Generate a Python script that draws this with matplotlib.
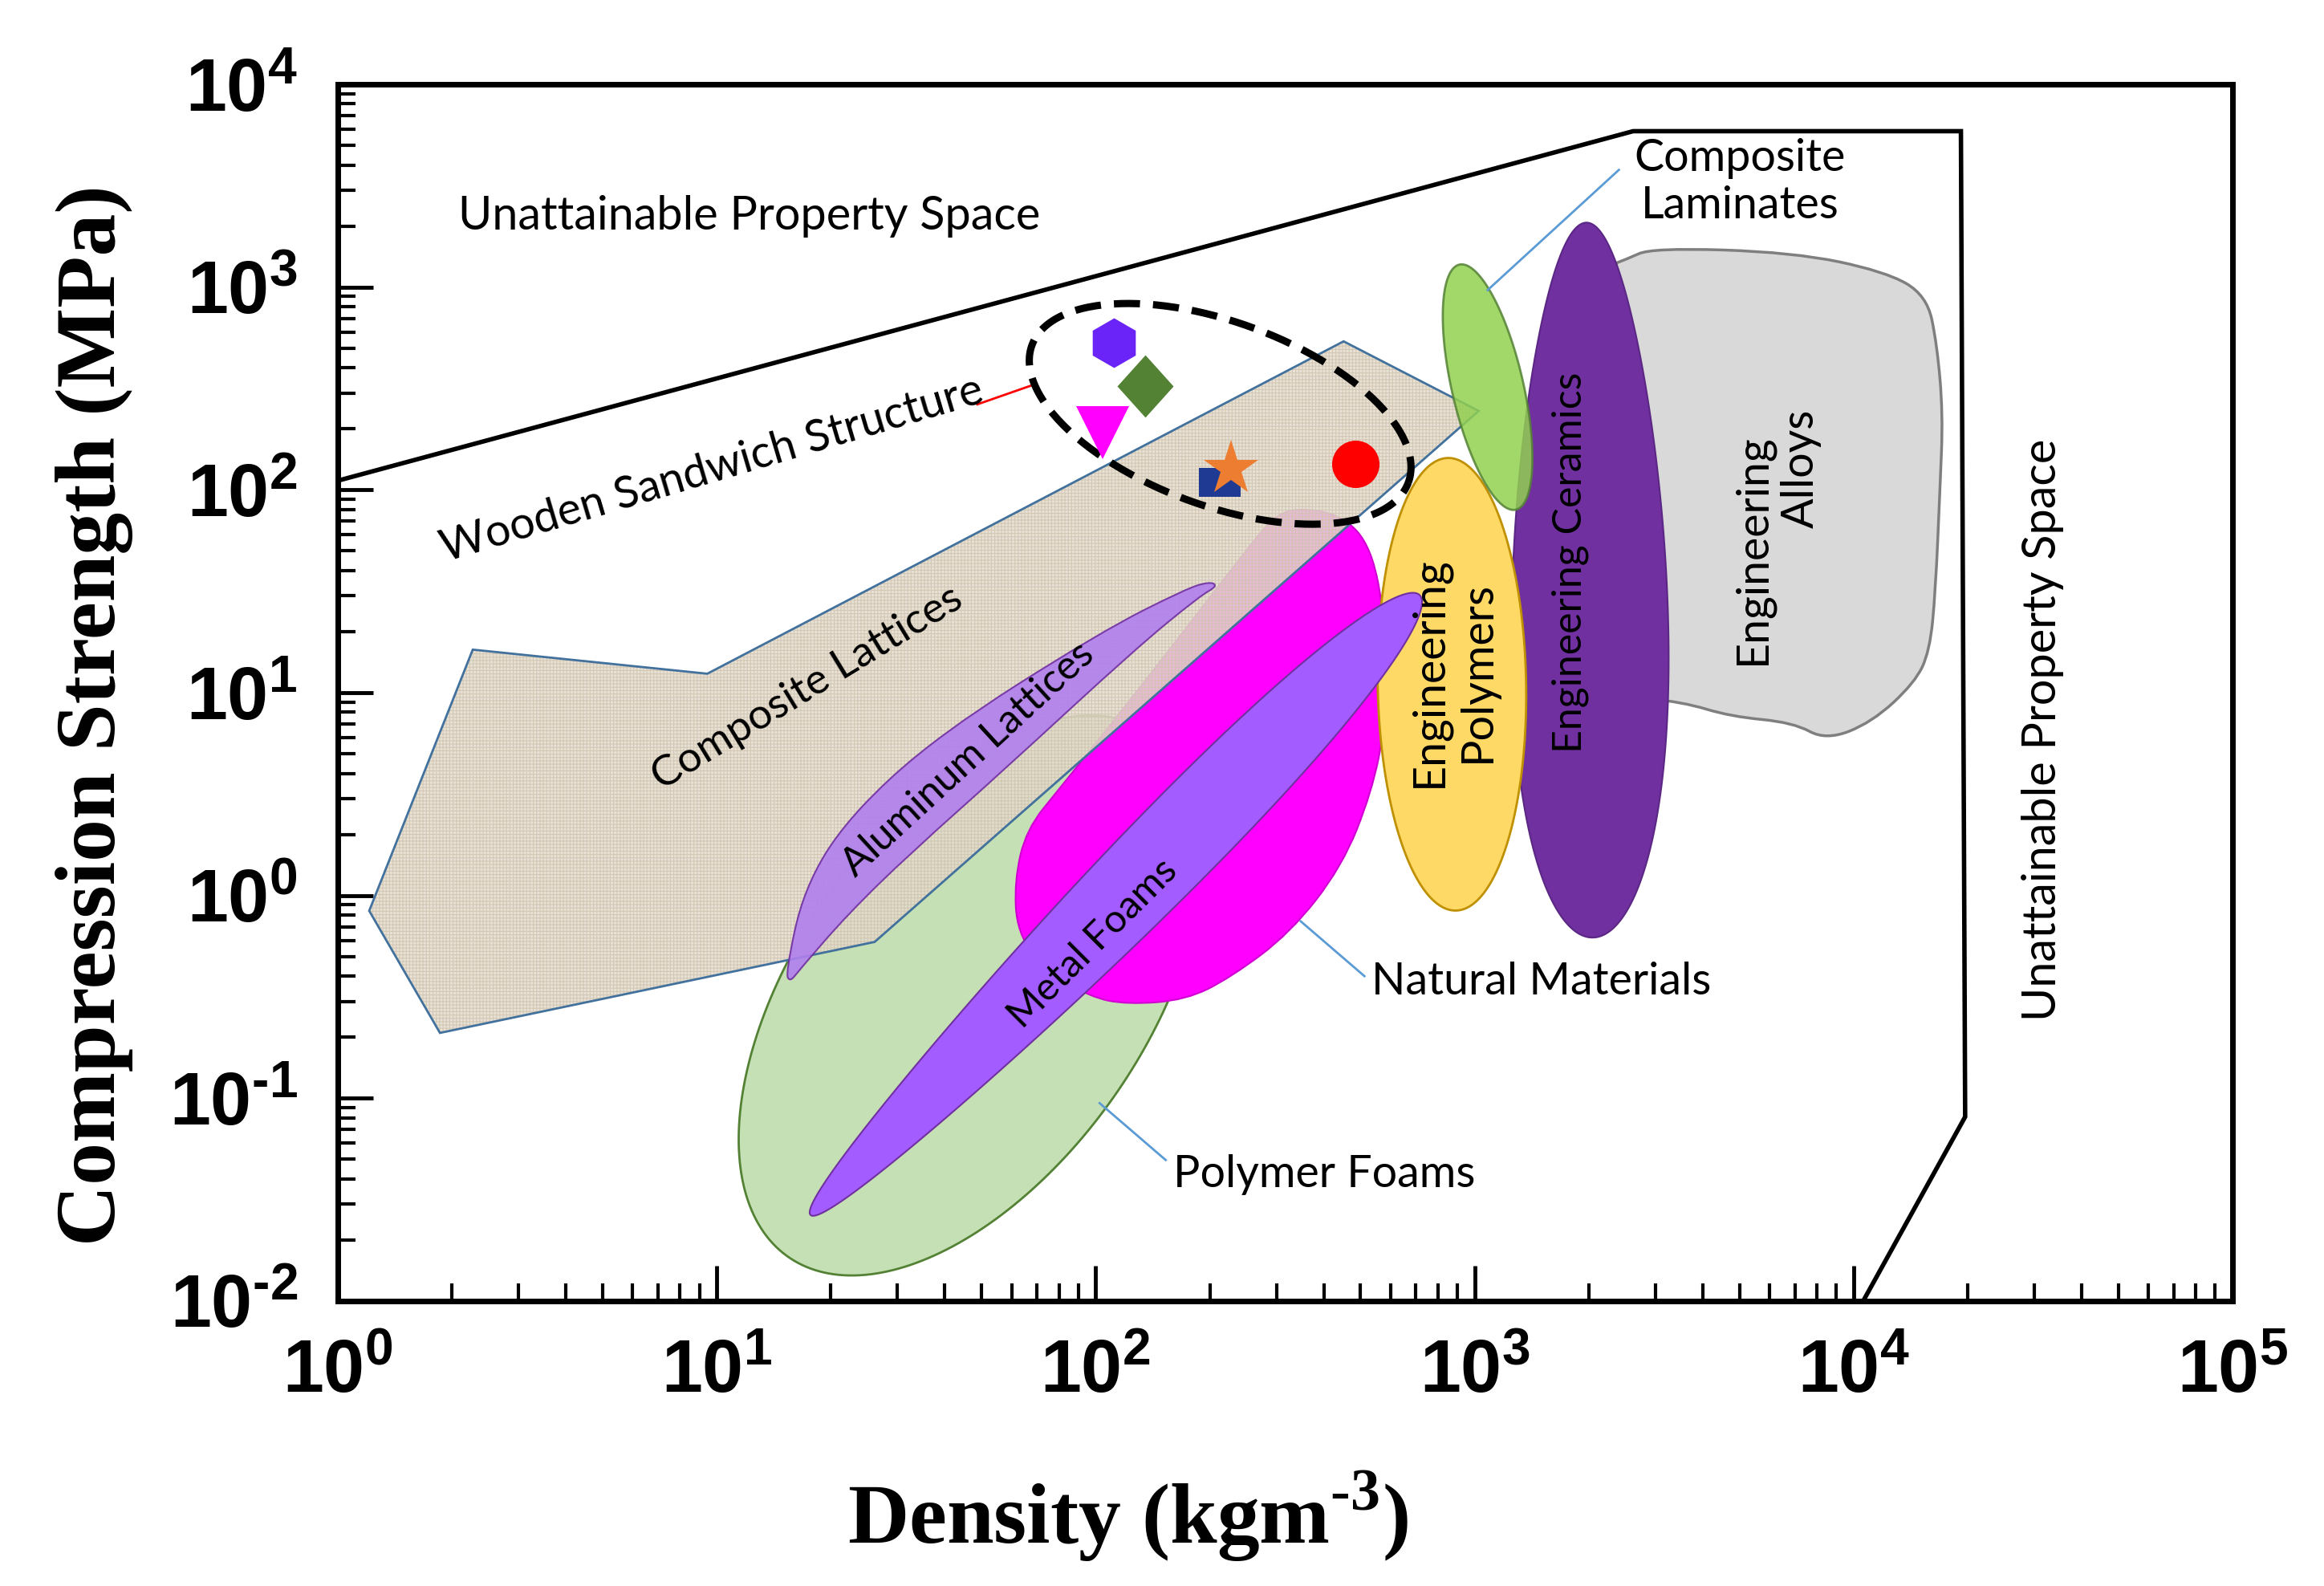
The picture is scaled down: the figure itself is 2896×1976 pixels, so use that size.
import numpy as np
import matplotlib.pyplot as plt
from matplotlib.patches import Polygon, PathPatch
from matplotlib.path import Path
from matplotlib.ticker import FuncFormatter

# ---- values: density (kg/m3), compression strength (MPa) ----

# limit of attainable property space
bound_density = [1, 2620, 19200, 19700, 10600]
bound_strength = [111, 5870, 5870, 0.081, 0.01]

# composite lattices envelope
lattice_density = [1.21, 2.27, 9.44, 451, 1025, 26.1, 1.86]
lattice_strength = [0.84, 16.3, 12.4, 540, 245, 0.59, 0.21]

# engineering alloys envelope
alloys_density = [2500, 2943, 6934, 12110, 15600, 16600, 17220, 16900, 16450,
                  15880, 14510, 11170, 8450, 6934, 4745, 3524, 2371, 2265]
alloys_strength = [1365, 1563, 1485, 1194, 912, 523, 237, 100, 31.4,
                   16.0, 11.2, 7.13, 5.82, 7.13, 7.62, 9.02, 9.66, 1276]

# natural materials envelope
natural_density = [338, 447, 535, 581, 581, 535, 447, 326, 227, 173,
                   121, 96.6, 73.7, 62.1, 61.0, 65.6, 80.7, 145, 249, 293]
natural_strength = [82.0, 75.4, 52.0, 22.4, 6.89, 3.23, 1.39, 0.652, 0.394, 0.305,
                    0.290, 0.316, 0.428, 0.652, 1.175, 2.12, 3.40, 13.5, 50.2, 72.8]

# aluminium lattices envelope
alu_density = [15.2, 16.96, 22.2, 38.5, 102.9, 173, 200, 210, 188, 126.6,
               57.3, 32.5, 22.2, 16.5, 15.6]
alu_strength = [0.414, 1.08, 2.43, 6.22, 19.9, 32.5, 35.3, 33.6, 29.9, 16.3,
                4.16, 1.62, 0.811, 0.428, 0.374]

# elliptical envelopes: centre density, centre strength, half length and half
# width (decades), tilt (deg), taper
laminates_env = (1082, 321, 0.62, 0.176, 103, 0.0)
eng_polymers_env = (871, 11.0, 1.116, 0.366, 91, 0.0)
metal_foams_env = (112.5, 0.897, 2.143, 0.212, 45.5, 0.25)
polymer_foams_env = (46.9, 0.321, 1.573, 0.863, 55, 0.0)
ceramics_env = (2010, 35.9, 1.763, 0.38, 90.5, -0.2)
sandwich_env = (213, 237, 0.988, 0.454, -20, 0.0)

# wooden sandwich structures
sandwich_density = [111.6, 134.9, 104.3, 213, 227.5, 485]
sandwich_strength = [532, 326, 192, 109, 127, 134.5]

# leader lines
lead_natural_x, lead_natural_y = [347.5, 512], [0.746, 0.400]
lead_polyfoam_x, lead_polyfoam_y = [102.4, 153], [0.0946, 0.0496]
lead_laminate_x, lead_laminate_y = [1082, 2403], [966, 3784]
lead_sandwich_x, lead_sandwich_y = [48.7, 67.3], [264, 326]

# ---- figure ----
plt.rcParams['font.family'] = ['Liberation Sans Narrow', 'Liberation Sans']
plt.rcParams['font.weight'] = 'bold'
plt.rcParams['hatch.linewidth'] = 0.8

fig_w, fig_h = 28.96, 19.76
ax_box = [0.14537, 0.17966, 0.81526, 0.76721]
fig = plt.figure(figsize=(fig_w, fig_h), dpi=100)
ax = fig.add_axes(ax_box)
ax.set_xscale('log')
ax.set_yscale('log')
ax.set_xlim(1, 1e5)
ax.set_ylim(1e-2, 1e4)

# ratio of pixels per decade on x vs y, so ellipses look right on screen
K = (fig_w * ax_box[2] / 5) / (fig_h * ax_box[3] / 6)


def envelope(env, n=240):
    cx, cy, a, b, ang, taper = env
    t = np.linspace(0, 2 * np.pi, n)
    th = np.radians(ang)
    w = b * np.sin(t) * (1 + taper * np.cos(t))
    X = np.log10(cx) * K + a * np.cos(t) * np.cos(th) - w * np.sin(th)
    Y = np.log10(cy) + a * np.cos(t) * np.sin(th) + w * np.cos(th)
    return np.column_stack([10 ** (X / K), 10 ** Y])


def smooth_outline(xs, ys):
    # closed quadratic bezier, the read-off corners act as control points
    xs = np.asarray(xs, float)
    ys = np.asarray(ys, float)
    mx = np.sqrt(xs * np.roll(xs, -1))
    my = np.sqrt(ys * np.roll(ys, -1))
    verts = [(mx[-1], my[-1])]
    codes = [Path.MOVETO]
    for i in range(len(xs)):
        verts += [(xs[i], ys[i]), (mx[i], my[i])]
        codes += [Path.CURVE3, Path.CURVE3]
    verts.append((mx[-1], my[-1]))
    codes.append(Path.CLOSEPOLY)
    return Path(verts, codes)


def add_shape(pts, face, edge, lw, z, alpha=1.0):
    ax.add_patch(Polygon(pts, closed=True, facecolor=face, edgecolor=edge,
                         linewidth=lw, zorder=z, alpha=alpha, joinstyle='round'))


def add_blob(xs, ys, face, edge, lw, z, alpha=1.0):
    ax.add_patch(PathPatch(smooth_outline(xs, ys), facecolor=face, edgecolor=edge,
                           linewidth=lw, zorder=z, alpha=alpha))


add_blob(alloys_density, alloys_strength, '#D9D9D9', '#7F7F7F', 2.5, 2)
add_shape(envelope(ceramics_env), '#7030A0', '#5B2784', 1.5, 3)
add_shape(envelope(polymer_foams_env), '#C5E0B4', '#548235', 2.0, 4)
add_blob(natural_density, natural_strength, '#FF00FF', '#D000D0', 1.5, 5)

# composite lattices: textured fill + blue outline
lat = np.column_stack([lattice_density, lattice_strength])
ax.add_patch(Polygon(lat, closed=True, facecolor='#E4DCCE', edgecolor='#D0C4AF',
                     hatch='++++', linewidth=0, zorder=6, alpha=0.85))
ax.add_patch(Polygon(lat, closed=True, fill=False, edgecolor='#41719C',
                     linewidth=2.0, zorder=6.1))

add_blob(alu_density, alu_strength, '#B07FEE', '#7030A0', 1.5, 7, alpha=0.9)
add_shape(envelope(eng_polymers_env), '#FFD966', '#BF9000', 2.0, 8)
add_shape(envelope(metal_foams_env), '#A35CFF', '#7030A0', 1.5, 9)
add_shape(envelope(laminates_env), '#92D050', '#548235', 2.0, 10, alpha=0.85)

# property space limit
ax.plot(bound_density, bound_strength, color='black', lw=4, zorder=11,
        solid_joinstyle='miter')

# leader lines
for lx, ly in [(lead_natural_x, lead_natural_y), (lead_polyfoam_x, lead_polyfoam_y),
               (lead_laminate_x, lead_laminate_y)]:
    ax.plot(lx, ly, color='#5B9BD5', lw=2, zorder=11)
ax.plot(lead_sandwich_x, lead_sandwich_y, color='red', lw=2, zorder=11)

# dashed envelope round the sandwich structures
env = envelope(sandwich_env)
ax.plot(env[:, 0], env[:, 1], color='black', lw=6.5, dashes=(3.6, 1.8), zorder=12)

# sandwich structure points
marker_styles = [
    ('h', 44.6, '#6B24F7'),
    ([(0, 1), (0.9, 0), (0, -1), (-0.9, 0)], 56, '#548235'),
    ('v', 47.5, '#FF00FF'),
    ([(-1, -0.71), (1, -0.71), (1, 0.71), (-1, 0.71)], 37.4, '#1F3A93'),
    ('*', 51.5, '#ED7D31'),
    ('o', 42.5, '#FF0000'),
]
for xd, yd, (m, ms, c) in zip(sandwich_density, sandwich_strength, marker_styles):
    ax.plot(xd, yd, marker=m, ms=ms, color=c, mew=0, ls='none', zorder=13)

# labels
lab = dict(family='Lato', weight='normal', fontsize=40, ha='center', va='center', zorder=14)
ax.text(12.2, 2223, 'Unattainable Property Space', **dict(lab, fontsize=41.5))
ax.text(31500, 6.55, 'Unattainable Property Space', rotation=90, **dict(lab, fontsize=41.5))
ax.text(9.7, 125, 'Wooden Sandwich Structure', rotation=16.5, **lab)
ax.text(17.3, 10.5, 'Composite Lattices', rotation=31.4, **dict(lab, fontsize=38))
ax.text(46.1, 4.68, 'Aluminum Lattices', rotation=42.5, **dict(lab, fontsize=36))
ax.text(98.4, 0.579, 'Metal Foams', rotation=45, **dict(lab, fontsize=35))
ax.text(879, 12.65, 'Engineering\nPolymers', rotation=90, **lab)
ax.text(1792, 44.0, 'Engineering Ceramics', rotation=90, **dict(lab, fontsize=36))
ax.text(5409, 51.2, 'Engineering', rotation=90, **lab)
ax.text(7280, 127, 'Alloys', rotation=90, **lab)
ax.text(5010, 3281, 'Composite\nLaminates', **lab)
lab_left = dict(lab, ha='left')
ax.text(535, 0.374, 'Natural Materials', **lab_left)
ax.text(160, 0.0419, 'Polymer Foams', **lab_left)


# decade labels with a short hyphen for negative powers
def decade_label(v, pos):
    e = int(round(np.log10(v)))
    s = str(abs(e)) if e >= 0 else '\u2010' + str(abs(e))
    return r'$\mathdefault{10^{%s}}$' % s


ax.xaxis.set_major_formatter(FuncFormatter(decade_label))
ax.yaxis.set_major_formatter(FuncFormatter(decade_label))

# axes styling
for s in ax.spines.values():
    s.set_linewidth(5)
ax.tick_params(which='major', direction='in', length=32, width=3.5, labelsize=66,
               top=False, right=False)
ax.tick_params(which='minor', direction='in', length=16, width=3, top=False, right=False)
ax.tick_params(axis='x', which='major', pad=34)
ax.tick_params(axis='y', which='major', pad=36)

ax.set_ylabel('Compression Strength (MPa)', family='Liberation Serif', weight='bold', fontsize=76)
ax.set_xlabel('Density (kgm$^{\\mathdefault{\u20103}}$)', family='Liberation Serif',
              weight='bold', fontsize=76)
ax.yaxis.set_label_coords(-0.108, 0.4815)
ax.xaxis.set_label_coords(0.4168, -0.138)

fig.savefig('out.png', dpi=100)
